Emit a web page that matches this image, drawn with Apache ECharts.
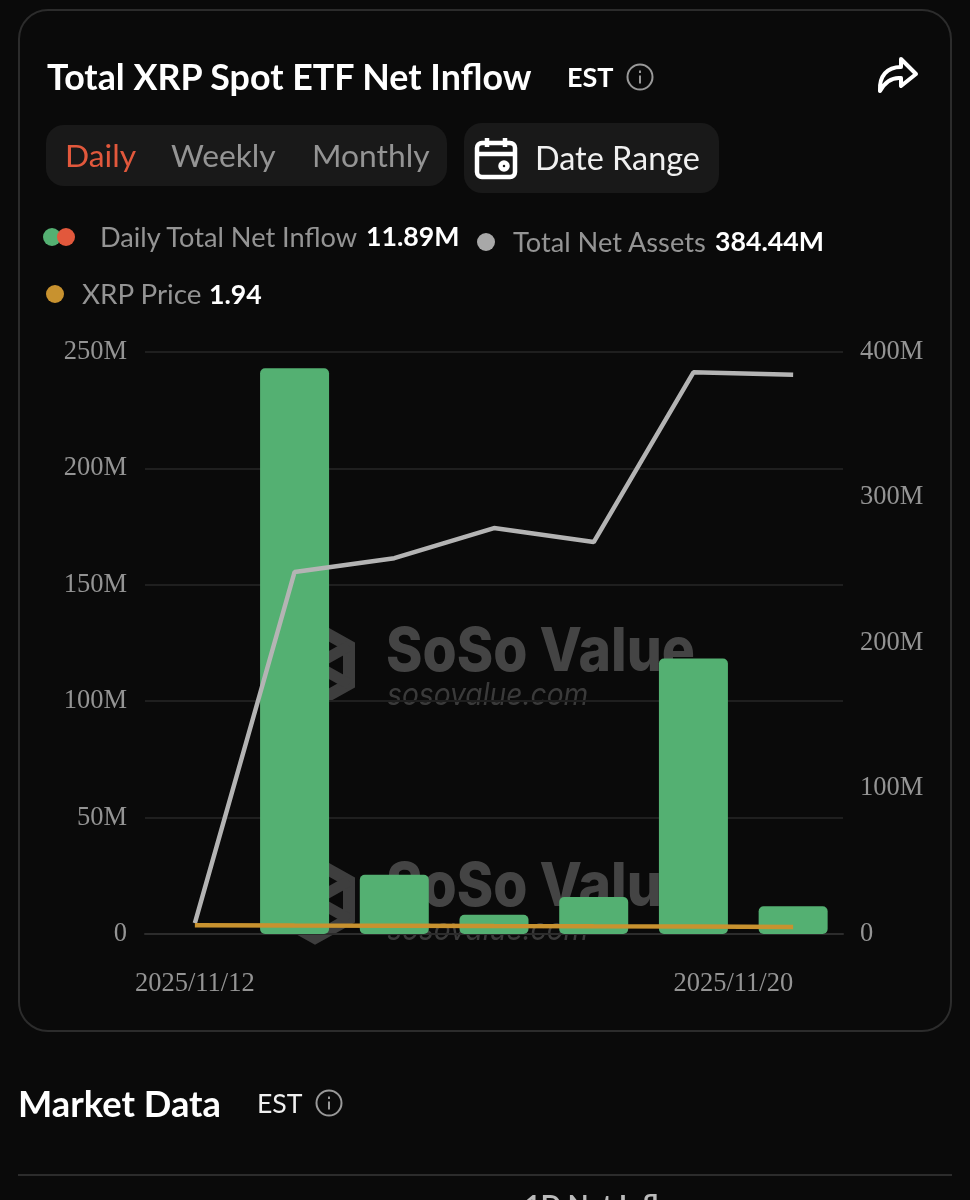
<!DOCTYPE html>
<html>
<head>
<meta charset="utf-8">
<script src="https://cdn.jsdelivr.net/npm/echarts@6/dist/echarts.min.js"></script>
<style>
  html, body { margin: 0; width: 970px; height: 1200px; overflow: hidden; background: #0a0a0a; font-family: Lato, sans-serif; }
  #chart { position: absolute; left: 0; top: 0; width: 970px; height: 1200px; }
  .abs { position: absolute; white-space: nowrap; line-height: 1; }
  .box { position: absolute; box-sizing: border-box; }
  .dot { position: absolute; width: 18px; height: 18px; border-radius: 50%; }
  .grey { color: #949494; }
  .white { color: #fff; font-weight: 700; }
</style>
</head>
<body>
<div class="box" style="left:18px;top:9px;width:934px;height:1023px;border:2px solid #2c2c2c;border-radius:30px"></div>
<div class="box" style="left:46px;top:125px;width:401px;height:61px;background:#191919;border-radius:18px"></div>
<div class="box" style="left:464px;top:123px;width:255px;height:70px;background:#191919;border-radius:18px"></div>
<div class="box" style="left:18px;top:1174px;width:934px;height:2px;background:#2c2c2c"></div>

<div id="chart"></div>

<div class="abs" style="left:47px;top:59px;font-size:35.8px;font-weight:700;color:#fff">Total XRP Spot ETF Net Inflow</div>
<div class="abs" style="left:567px;top:63px;font-size:27px;font-weight:700;color:#fff">EST</div>
<svg class="box" style="left:626px;top:63px" width="28" height="28" viewBox="0 0 28 28" fill="none" stroke="#999" stroke-width="2"><circle cx="14" cy="14" r="12.5"/><path d="M14 12.5v8M14 7.5v2.5"/></svg>
<svg class="box" style="left:876px;top:56px" width="44" height="38" viewBox="0 0 44 38" fill="none" stroke="#fff" stroke-width="4" stroke-linejoin="round"><path d="M25 3 L40 18 L25 30 L25 22 C15 21 9 26 4 35 C3 20 11 11 25 11 Z"/></svg>

<div class="abs" style="left:65px;top:140px;font-size:31.8px;color:#e2583c">Daily</div>
<div class="abs grey" style="left:171px;top:140px;font-size:31.8px">Weekly</div>
<div class="abs grey" style="left:312px;top:140px;font-size:31.8px">Monthly</div>
<svg class="box" style="left:474px;top:136px" width="44" height="44" viewBox="0 0 44 44" fill="none" stroke="#fff" stroke-width="4.5"><rect x="3" y="7" width="38" height="34" rx="5"/><path d="M3 18H41M13 2V11M31 2V11" /><circle cx="30" cy="30" r="3.5"/></svg>
<div class="abs" style="left:535px;top:142px;font-size:32.4px;color:#f0f0f0">Date Range</div>

<div class="dot" style="left:43px;top:228px;background:#54b072"></div>
<div class="dot" style="left:57px;top:228px;background:#e2583c"></div>
<div class="abs grey" style="left:100px;top:223px;font-size:27.2px">Daily Total Net Inflow</div>
<div class="abs white" style="left:366px;top:223px;font-size:26.7px">11.89M</div>
<div class="dot" style="left:477px;top:233px;background:#a8a8a8"></div>
<div class="abs grey" style="left:513px;top:228px;font-size:27.2px">Total Net Assets</div>
<div class="abs white" style="left:715px;top:228px;font-size:26.7px">384.44M</div>
<div class="dot" style="left:46px;top:285px;background:#c8922f"></div>
<div class="abs grey" style="left:82px;top:280px;font-size:27.8px">XRP Price</div>
<div class="abs white" style="left:209px;top:281px;font-size:26.7px">1.94</div>

<div class="abs" style="left:18px;top:1085px;font-size:36.3px;font-weight:700;color:#fff">Market Data</div>
<div class="abs" style="left:257px;top:1090px;font-size:26.6px;color:#f0f0f0">EST</div>
<svg class="box" style="left:315px;top:1089px" width="28" height="28" viewBox="0 0 28 28" fill="none" stroke="#999" stroke-width="2"><circle cx="14" cy="14" r="12.5"/><path d="M14 12.5v8M14 7.5v2.5"/></svg>
<div class="abs" style="left:525px;top:1190px;font-size:27px;font-weight:700;color:#bbb">1D Net Inflow</div>

<script>
const categories = ['2025/11/12', '2025/11/13', '2025/11/14', '2025/11/17', '2025/11/18', '2025/11/19', '2025/11/20'];
const netInflow = [null, 243.05, 25.41, 8.26, 15.88, 118.3, 11.89];
const netAssets = [7.5, 248.8, 258.3, 279, 269.4, 386, 384.44];
const xrpPrice = [2.38, 2.33, 2.3, 2.2, 2.12, 2.07, 1.94];

const chart = echarts.init(document.getElementById('chart'));

const fmtM = v => (v === 0 ? '0' : v + 'M');
const labelStyle = { color: '#949494', fontFamily: 'Liberation Serif', fontSize: 26.5 };

// two copies of the site watermark, sit behind the series
function watermark(dy) {
  const hex = [[315, 627 + dy], [349, 646 + dy], [349, 684 + dy], [315, 703 + dy], [281, 684 + dy], [281, 646 + dy]];
  return [
    { type: 'polygon', z: 0, shape: { points: hex }, style: { fill: 'none', stroke: '#3e3e3e', lineWidth: 12 } },
    { type: 'polyline', z: 0, shape: { points: [[315, 665 + dy], [349, 646 + dy]] }, style: { stroke: '#3e3e3e', lineWidth: 11 } },
    { type: 'polyline', z: 0, shape: { points: [[315, 665 + dy], [349, 684 + dy]] }, style: { stroke: '#3e3e3e', lineWidth: 11 } },
    { type: 'text', z: 0, x: 386, y: 622 + dy, scaleX: 0.906, style: { text: 'SoSo Value', fill: '#444', font: '800 61px Inter' } },
    { type: 'text', z: 0, x: 387, y: 680 + dy, scaleX: 0.91, style: { text: 'sosovalue.com', fill: '#3a3a3a', font: 'italic 31px Inter' } }
  ];
}

const option = {
  animation: false,
  backgroundColor: 'transparent',
  graphic: { elements: watermark(0).concat(watermark(235)) },
  grid: { left: 145, right: 127, top: 352, height: 582, containLabel: false },
  xAxis: {
    type: 'category',
    data: categories,
    boundaryGap: true,
    axisLine: { lineStyle: { color: '#2c2c2c', width: 2 } },
    axisTick: { show: false },
    axisLabel: {
      ...labelStyle,
      margin: 37,
      interval: i => i === 0 || i === categories.length - 1,
      alignMaxLabel: 'right'
    }
  },
  yAxis: [
    {
      type: 'value', min: 0, max: 250, interval: 50,
      axisLabel: { ...labelStyle, margin: 18, formatter: fmtM },
      axisLine: { show: false }, axisTick: { show: false },
      splitLine: { lineStyle: { color: '#1f1f1f', width: 2 } }
    },
    {
      type: 'value', min: 0, max: 400, interval: 100, position: 'right',
      axisLabel: { ...labelStyle, margin: 17, formatter: fmtM },
      axisLine: { show: false }, axisTick: { show: false },
      splitLine: { show: false }
    },
    // price runs on its own hidden scale, that's why it hugs the floor
    { type: 'value', min: 0, max: 160, show: false }
  ],
  series: [
    {
      type: 'bar', data: netInflow, yAxisIndex: 0, barWidth: 69,
      itemStyle: { color: '#54b072', borderRadius: 5 }
    },
    {
      type: 'line', data: netAssets, yAxisIndex: 1, symbol: 'none',
      lineStyle: { color: '#b4b4b4', width: 4.5 }
    },
    {
      type: 'line', data: xrpPrice, yAxisIndex: 2, symbol: 'none',
      lineStyle: { color: '#c8922f', width: 4.5 }
    }
  ]
};

chart.setOption(option);
</script>
</body>
</html>
